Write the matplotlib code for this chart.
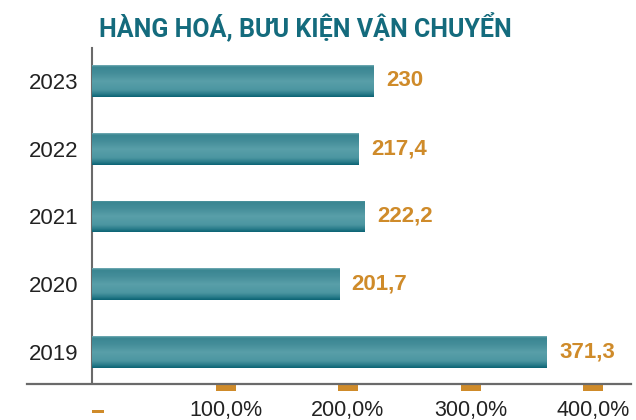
import matplotlib
matplotlib.use("Agg")
import matplotlib.pyplot as plt
import numpy as np
from matplotlib import transforms
from matplotlib.colors import LinearSegmentedColormap
from matplotlib.lines import Line2D

# ---- data ----
years = ["2019", "2020", "2021", "2022", "2023"]
values = [371.3, 201.7, 222.2, 217.4, 230]
value_labels = ["371,3", "201,7", "222,2", "217,4", "230"]
tick_values = [0, 100, 200, 300, 400]
tick_labels = ["-", "100,0%", "200,0%", "300,0%", "400,0%"]
title = "HÀNG HOÁ, BƯU KIỆN VẬN CHUYỂN"

TEAL_TITLE = "#146b7d"
GOLD = "#cf8b2a"
AXIS_GRAY = "#6a6a6a"
TEXT = "#222222"

W, H, DPI = 636, 420, 100
fig = plt.figure(figsize=(W / DPI, H / DPI), dpi=DPI)
fig.patch.set_facecolor("white")

ax_left, ax_right, ax_top, ax_bottom = 92, 636, 48, 383
ax = fig.add_axes([ax_left / W, (H - ax_bottom) / H,
                   (ax_right - ax_left) / W, (ax_bottom - ax_top) / H])

ypos = np.arange(len(years))
bar_h = 0.47
bars = ax.barh(ypos, values, height=bar_h, color="#3f8c98", edgecolor="none", zorder=2)

cmap = LinearSegmentedColormap.from_list(
    "bargrad",
    [(0.0, "#74adb6"), (0.05, "#3a8692"), (0.25, "#448d99"), (0.5, "#599fa9"),
     (0.78, "#4c96a1"), (0.9, "#2c7e8c"), (1.0, "#0c6475")])
grad = np.linspace(0, 1, 64).reshape(-1, 1)
for b in bars:
    x0, y0, w, h = b.get_x(), b.get_y(), b.get_width(), b.get_height()
    im = ax.imshow(grad, extent=[x0, x0 + w, y0, y0 + h], origin="upper",
                   aspect="auto", cmap=cmap, vmin=0, vmax=1, zorder=3,
                   interpolation="bilinear")
    im.set_clip_path(b)

px_per_unit = 1.225
ax.set_xlim(0, (ax_right - ax_left) / px_per_unit)
ax.set_ylim(-0.456, 4.485)

# value labels
off_val = transforms.ScaledTranslation(12.6 / DPI, 0, fig.dpi_scale_trans)
for yi, v, lab in zip(ypos, values, value_labels):
    ax.text(v, yi, lab, transform=ax.transData + off_val, ha="left", va="center",
            fontsize=16, fontweight="bold", color=GOLD,
            family=["Liberation Sans", "DejaVu Sans"], zorder=4)

# y axis
ax.set_yticks(ypos)
ax.set_yticklabels(years, fontsize=16, color=TEXT, family=["Liberation Sans", "DejaVu Sans"])
ax.tick_params(axis="y", length=0, pad=9.5)
ax.set_xticks([])
for s in ["top", "right", "bottom"]:
    ax.spines[s].set_visible(False)
ax.spines["left"].set_color(AXIS_GRAY)
ax.spines["left"].set_linewidth(1.5)

# horizontal axis line (extends beyond axes)
fig.add_artist(Line2D([27 / W, 631 / W], [(H - 384) / H] * 2, color=AXIS_GRAY,
                      linewidth=1.6, transform=fig.transFigure))

# x ticks: orange markers and labels, shifted right
blend = transforms.blended_transform_factory(ax.transData, ax.transAxes)
off_tick = transforms.ScaledTranslation(11 / DPI, 0, fig.dpi_scale_trans)
off_zero = transforms.ScaledTranslation(6 / DPI, 0, fig.dpi_scale_trans)
rect_marker = [(-2, -0.5), (2, -0.5), (2, 0.5), (-2, 0.5), (-2, -0.5)]
ax_hpx = ax_bottom - ax_top
for v, lab in zip(tick_values, tick_labels):
    if v == 0:
        ax.plot([v], [(ax_bottom - 410.7) / ax_hpx], transform=blend + off_zero,
                marker=rect_marker, markersize=12 * 72 / DPI, color=GOLD,
                markeredgewidth=0, clip_on=False, linestyle="none")
        continue
    ax.plot([v], [(ax_bottom - 388) / ax_hpx], transform=blend + off_tick,
            marker=rect_marker, markersize=20.5 * 72 / DPI, color=GOLD,
            markeredgewidth=0, clip_on=False, linestyle="none")
    ax.text(v, (ax_bottom - 400) / ax_hpx, lab, transform=blend + off_tick,
            ha="center", va="top", fontsize=15.5, color=TEXT,
            family=["Liberation Sans", "DejaVu Sans"], clip_on=False)

# title
fig.text(99 / W, (H - 37.3) / H, title, ha="left", va="baseline",
         fontsize=18, fontweight="bold", color=TEAL_TITLE,
         family=["Roboto", "DejaVu Sans"])

fig.savefig("out.png", dpi=DPI, facecolor="white")
